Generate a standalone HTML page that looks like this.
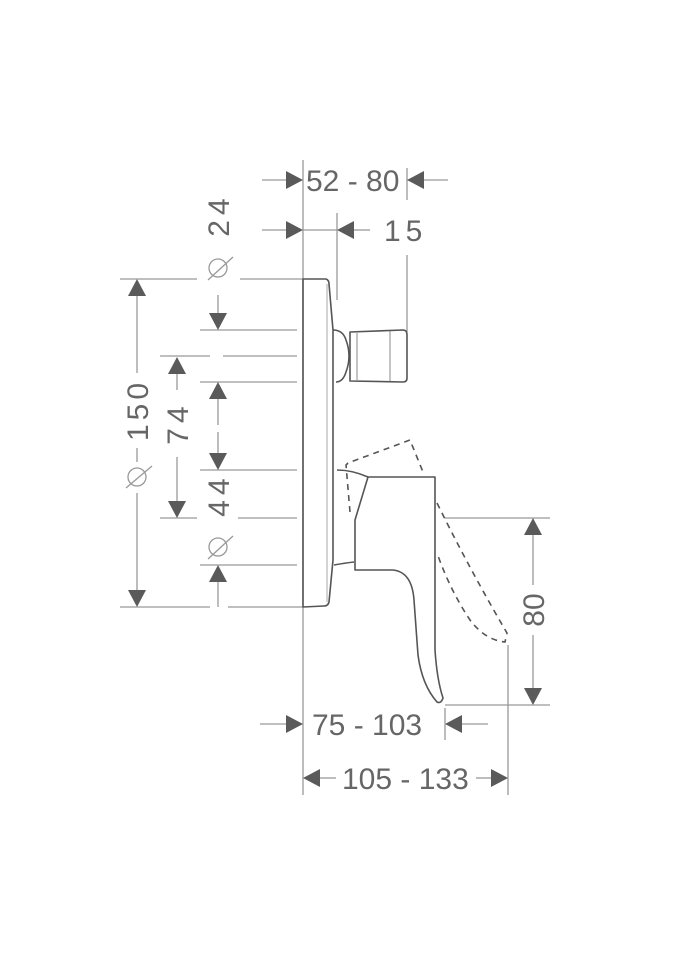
<!DOCTYPE html>
<html><head><meta charset="utf-8"><style>
html,body{margin:0;padding:0;background:#fff}
svg{display:block}
text{font-family:"Liberation Sans",sans-serif;fill:#666;font-size:30px}
</style></head><body>
<svg width="675" height="960" viewBox="0 0 675 960" xmlns="http://www.w3.org/2000/svg">
<g stroke="#999" stroke-width="1.3" fill="none">
<line x1="303" y1="160" x2="303" y2="795"/>
<line x1="337" y1="213" x2="337" y2="300"/>
<line x1="407" y1="168" x2="407" y2="200"/>
<line x1="407" y1="255" x2="407" y2="332"/>
<line x1="262" y1="180" x2="286" y2="180"/>
<line x1="424" y1="180" x2="448" y2="180"/>
<line x1="262" y1="230" x2="286" y2="230"/>
<line x1="303" y1="230" x2="337" y2="230"/>
<line x1="354" y1="230" x2="370" y2="230"/>
<line x1="120" y1="279" x2="197" y2="279"/>
<line x1="240" y1="279" x2="303" y2="279"/>
<line x1="200" y1="330" x2="297" y2="330"/>
<line x1="160" y1="356" x2="210" y2="356"/>
<line x1="223" y1="356" x2="297" y2="356"/>
<line x1="200" y1="382" x2="297" y2="382"/>
<line x1="200" y1="470" x2="297" y2="470"/>
<line x1="160" y1="518" x2="197" y2="518"/>
<line x1="238" y1="518" x2="297" y2="518"/>
<line x1="200" y1="565" x2="297" y2="565"/>
<line x1="120" y1="607" x2="210" y2="607"/>
<line x1="228" y1="607" x2="303" y2="607"/>
<line x1="137" y1="296" x2="137" y2="373"/>
<line x1="137" y1="448" x2="137" y2="462"/>
<line x1="137" y1="493" x2="137" y2="590"/>
<line x1="177" y1="374" x2="177" y2="390"/>
<line x1="177" y1="457" x2="177" y2="501"/>
<line x1="218" y1="295" x2="218" y2="313"/>
<line x1="218" y1="399" x2="218" y2="425"/>
<line x1="218" y1="432" x2="218" y2="453"/>
<line x1="218" y1="582" x2="218" y2="607"/>
<line x1="445" y1="518" x2="550" y2="518"/>
<line x1="445" y1="705" x2="550" y2="705"/>
<line x1="533" y1="535" x2="533" y2="585"/>
<line x1="533" y1="635" x2="533" y2="688"/>
<line x1="445" y1="708" x2="445" y2="740"/>
<line x1="508" y1="645" x2="508" y2="795"/>
<line x1="260" y1="724" x2="286" y2="724"/>
<line x1="462" y1="724" x2="488" y2="724"/>
<line x1="320" y1="778" x2="336" y2="778"/>
<line x1="476" y1="778" x2="491" y2="778"/>
<circle cx="218" cy="268" r="9"/><line x1="208" y1="280" x2="233" y2="257"/>
<circle cx="218" cy="547" r="9"/><line x1="208" y1="559" x2="233" y2="536"/>
<circle cx="137" cy="477" r="9"/><line x1="126" y1="488" x2="152" y2="466"/>
</g>
<g fill="#5a5a5a">
<polygon points="286,171 303,180 286,189"/>
<polygon points="407,180 424,171 424,189"/>
<polygon points="286,221 303,230 286,239"/>
<polygon points="337,230 354,221 354,239"/>
<polygon points="128,296 137,279 146,296"/>
<polygon points="128,590 137,607 146,590"/>
<polygon points="168,374 177,357 186,374"/>
<polygon points="168,501 177,518 186,501"/>
<polygon points="209,313 218,330 227,313"/>
<polygon points="209,399 218,382 227,399"/>
<polygon points="209,453 218,470 227,453"/>
<polygon points="209,582 218,565 227,582"/>
<polygon points="524,535 533,518 542,535"/>
<polygon points="524,688 533,705 542,688"/>
<polygon points="286,715 303,724 286,733"/>
<polygon points="445,724 462,715 462,733"/>
<polygon points="303,778 320,769 320,787"/>
<polygon points="508,778 491,769 491,787"/>
</g>
<g stroke="#555" stroke-width="1.6" fill="none" stroke-linejoin="round">
<path d="M303,279 L326,279 Q329,280 329,284 L333,330 L333,560 L329,602 Q328,606 324,606 L303,607 Z"/>
<line x1="327" y1="284" x2="327" y2="602" stroke="#aaa" stroke-width="1"/>
<path d="M333,330 Q343,330 346,340 Q352,356 346,372 Q343,382 336,382"/>
<path d="M350,332 L403,330 Q407,330 407,335 L407,378 Q407,382 403,382 L350,381 Z"/>
<line x1="357" y1="333" x2="357" y2="380" stroke="#888" stroke-width="1"/>
<line x1="390" y1="331" x2="390" y2="381" stroke="#888" stroke-width="1"/>
<path d="M337,470 Q352,470 368,477"/>
<path d="M334,565 Q345,563 354,562"/>
<path d="M368,477 L435,477 L435,650 Q437,680 443,698 Q441,704 437,702 Q422,685 418,655 L414,600 Q412,572 393,570 L355,570 L355,520 Z"/>
</g>
<g stroke="#555" stroke-width="1.6" fill="none" stroke-dasharray="6,5">
<path d="M350,512 L346,465 L348,463 L410,440 L423,472"/>
<path d="M437,503 Q470,570 507,633 L505,642 Q485,640 470,620 Q450,590 437,553"/>
</g>
<text x="306" y="191">52 - 80</text>
<text x="384" y="241" letter-spacing="5">15</text>
<text x="312" y="735">75 - 103</text>
<text x="342" y="789">105 - 133</text>
<text transform="translate(229,215) rotate(-90)" text-anchor="middle" letter-spacing="5">24</text>
<text transform="translate(229,495) rotate(-90)" text-anchor="middle" letter-spacing="5">44</text>
<text transform="translate(148,410) rotate(-90)" text-anchor="middle" letter-spacing="4">150</text>
<text transform="translate(188,423) rotate(-90)" text-anchor="middle" letter-spacing="5">74</text>
<text transform="translate(544,610) rotate(-90)" text-anchor="middle">80</text>
</svg>
</body></html>
